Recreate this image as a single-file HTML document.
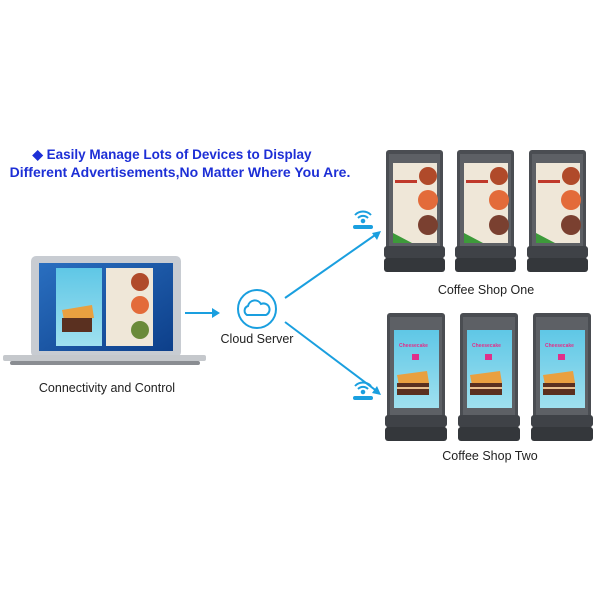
<!DOCTYPE html>
<html><head><style>
body{margin:0;width:600px;height:600px;background:#fff;overflow:hidden;font-family:"Liberation Sans",sans-serif}
</style></head><body>
<svg width="600" height="600" viewBox="0 0 600 600" xmlns="http://www.w3.org/2000/svg">
<defs>
<linearGradient id="scr" x1="0" y1="0" x2="1" y2="1"><stop offset="0" stop-color="#2a6fc0"/><stop offset="1" stop-color="#0d3f8a"/></linearGradient>
<linearGradient id="cy" x1="0" y1="0" x2="0" y2="1"><stop offset="0" stop-color="#5fc7e6"/><stop offset="1" stop-color="#9fe0ef"/></linearGradient>
<g id="dev1">
<rect x="0" y="0" width="57" height="122" rx="3" fill="#4a4d52"/>
<rect x="3" y="4" width="51" height="92" fill="#5d6065"/>
<rect x="7" y="13" width="44" height="80" fill="#efe7d8"/>
<circle cx="42" cy="26" r="9" fill="#b04a2a"/><circle cx="42" cy="50" r="10" fill="#e36b3a"/><circle cx="42" cy="75" r="10" fill="#7a4030"/>
<rect x="9" y="30" width="22" height="3" fill="#c0392b"/>
<path d="M7 93 L7 83 L26 93Z" fill="#3d9a3a"/>
<rect x="-2" y="96" width="61" height="12" rx="3" fill="#3f4247"/>
<rect x="-2" y="108" width="61" height="14" rx="3" fill="#34373b"/>
</g>
<g id="dev2">
<rect x="0" y="0" width="58" height="128" rx="3" fill="#4a4d52"/>
<rect x="3" y="4" width="52" height="98" fill="#5d6065"/>
<rect x="7" y="17" width="45" height="78" fill="url(#cy)"/>
<text x="12" y="34" font-size="5" fill="#e0308a" font-weight="bold">Cheesecake</text>
<rect x="25" y="41" width="7" height="6" fill="#e0308a"/>
<path d="M10 62 L40 58 L42 70 L12 72Z" fill="#e9a040"/>
<rect x="10" y="70" width="32" height="12" fill="#5a3020"/>
<rect x="10" y="74" width="32" height="2" fill="#e8c090"/>
<rect x="-2" y="102" width="62" height="12" rx="3" fill="#3f4247"/>
<rect x="-2" y="114" width="62" height="14" rx="3" fill="#34373b"/>
</g>
<g id="wifi" fill="none" stroke="#1a9fdf" stroke-width="2">
<path d="M-8 -4 A11 11 0 0 1 8 -4"/><path d="M-5 -1 A7 7 0 0 1 5 -1"/>
<circle cx="0" cy="2" r="1.3" fill="#1a9fdf"/>
<rect x="-10" y="6" width="20" height="4" rx="2" fill="#1a9fdf" stroke="none"/>
</g>
</defs>
<text x="172" y="159" text-anchor="middle" font-size="13.5" font-weight="bold" fill="#1d2fd6">◆ Easily Manage Lots of Devices to Display</text>
<text x="180" y="177" text-anchor="middle" font-size="14" font-weight="bold" fill="#1d2fd6">Different Advertisements,No Matter Where You Are.</text>
<!-- laptop -->
<rect x="31" y="256" width="150" height="101" rx="5" fill="#c8ccd2"/>
<rect x="39" y="263" width="134" height="88" fill="url(#scr)"/>
<rect x="56" y="268" width="46" height="78" fill="url(#cy)"/>
<rect x="106" y="268" width="47" height="78" fill="#efe7d8"/>
<circle cx="140" cy="282" r="9" fill="#b04a2a"/><circle cx="140" cy="305" r="9" fill="#e36b3a"/><circle cx="140" cy="330" r="9" fill="#6a8a3a"/>
<path d="M62 310 L92 305 L94 318 L64 320Z" fill="#e9a040"/>
<rect x="62" y="318" width="30" height="14" fill="#5a3020"/>
<rect x="3" y="355" width="203" height="6" rx="2" fill="#c5c8cc"/>
<rect x="10" y="361" width="190" height="4" rx="2" fill="#8a8d92"/>
<text x="107" y="392" text-anchor="middle" font-size="12.5" fill="#222">Connectivity and Control</text>
<!-- arrow -->
<line x1="185" y1="313" x2="213" y2="313" stroke="#1a9fdf" stroke-width="2"/>
<path d="M212 308 L220 313 L212 318Z" fill="#1a9fdf"/>
<circle cx="257" cy="309" r="19" fill="none" stroke="#1a9fdf" stroke-width="2"/>
<path d="M247 315 a5 5 0 0 1 1 -9 a7 7 0 0 1 13 -2 a5 5 0 0 1 5 11 z" fill="none" stroke="#1a9fdf" stroke-width="2"/>
<text x="257" y="343" text-anchor="middle" font-size="12.5" fill="#222">Cloud Server</text>
<line x1="285" y1="298" x2="378" y2="233" stroke="#1a9fdf" stroke-width="2"/>
<path d="M381 231 L372 233 L377 240Z" fill="#1a9fdf"/>
<line x1="285" y1="322" x2="378" y2="392" stroke="#1a9fdf" stroke-width="2"/>
<path d="M381 395 L377 386 L372 393Z" fill="#1a9fdf"/>
<use href="#wifi" x="363" y="219"/>
<use href="#wifi" x="363" y="390"/>
<use href="#dev1" x="386" y="150"/>
<use href="#dev1" x="457" y="150"/>
<use href="#dev1" x="529" y="150"/>
<text x="486" y="294" text-anchor="middle" font-size="12.5" fill="#222">Coffee Shop One</text>
<use href="#dev2" x="387" y="313"/>
<use href="#dev2" x="460" y="313"/>
<use href="#dev2" x="533" y="313"/>
<text x="490" y="460" text-anchor="middle" font-size="12.5" fill="#222">Coffee Shop Two</text>
</svg>
</body></html>
